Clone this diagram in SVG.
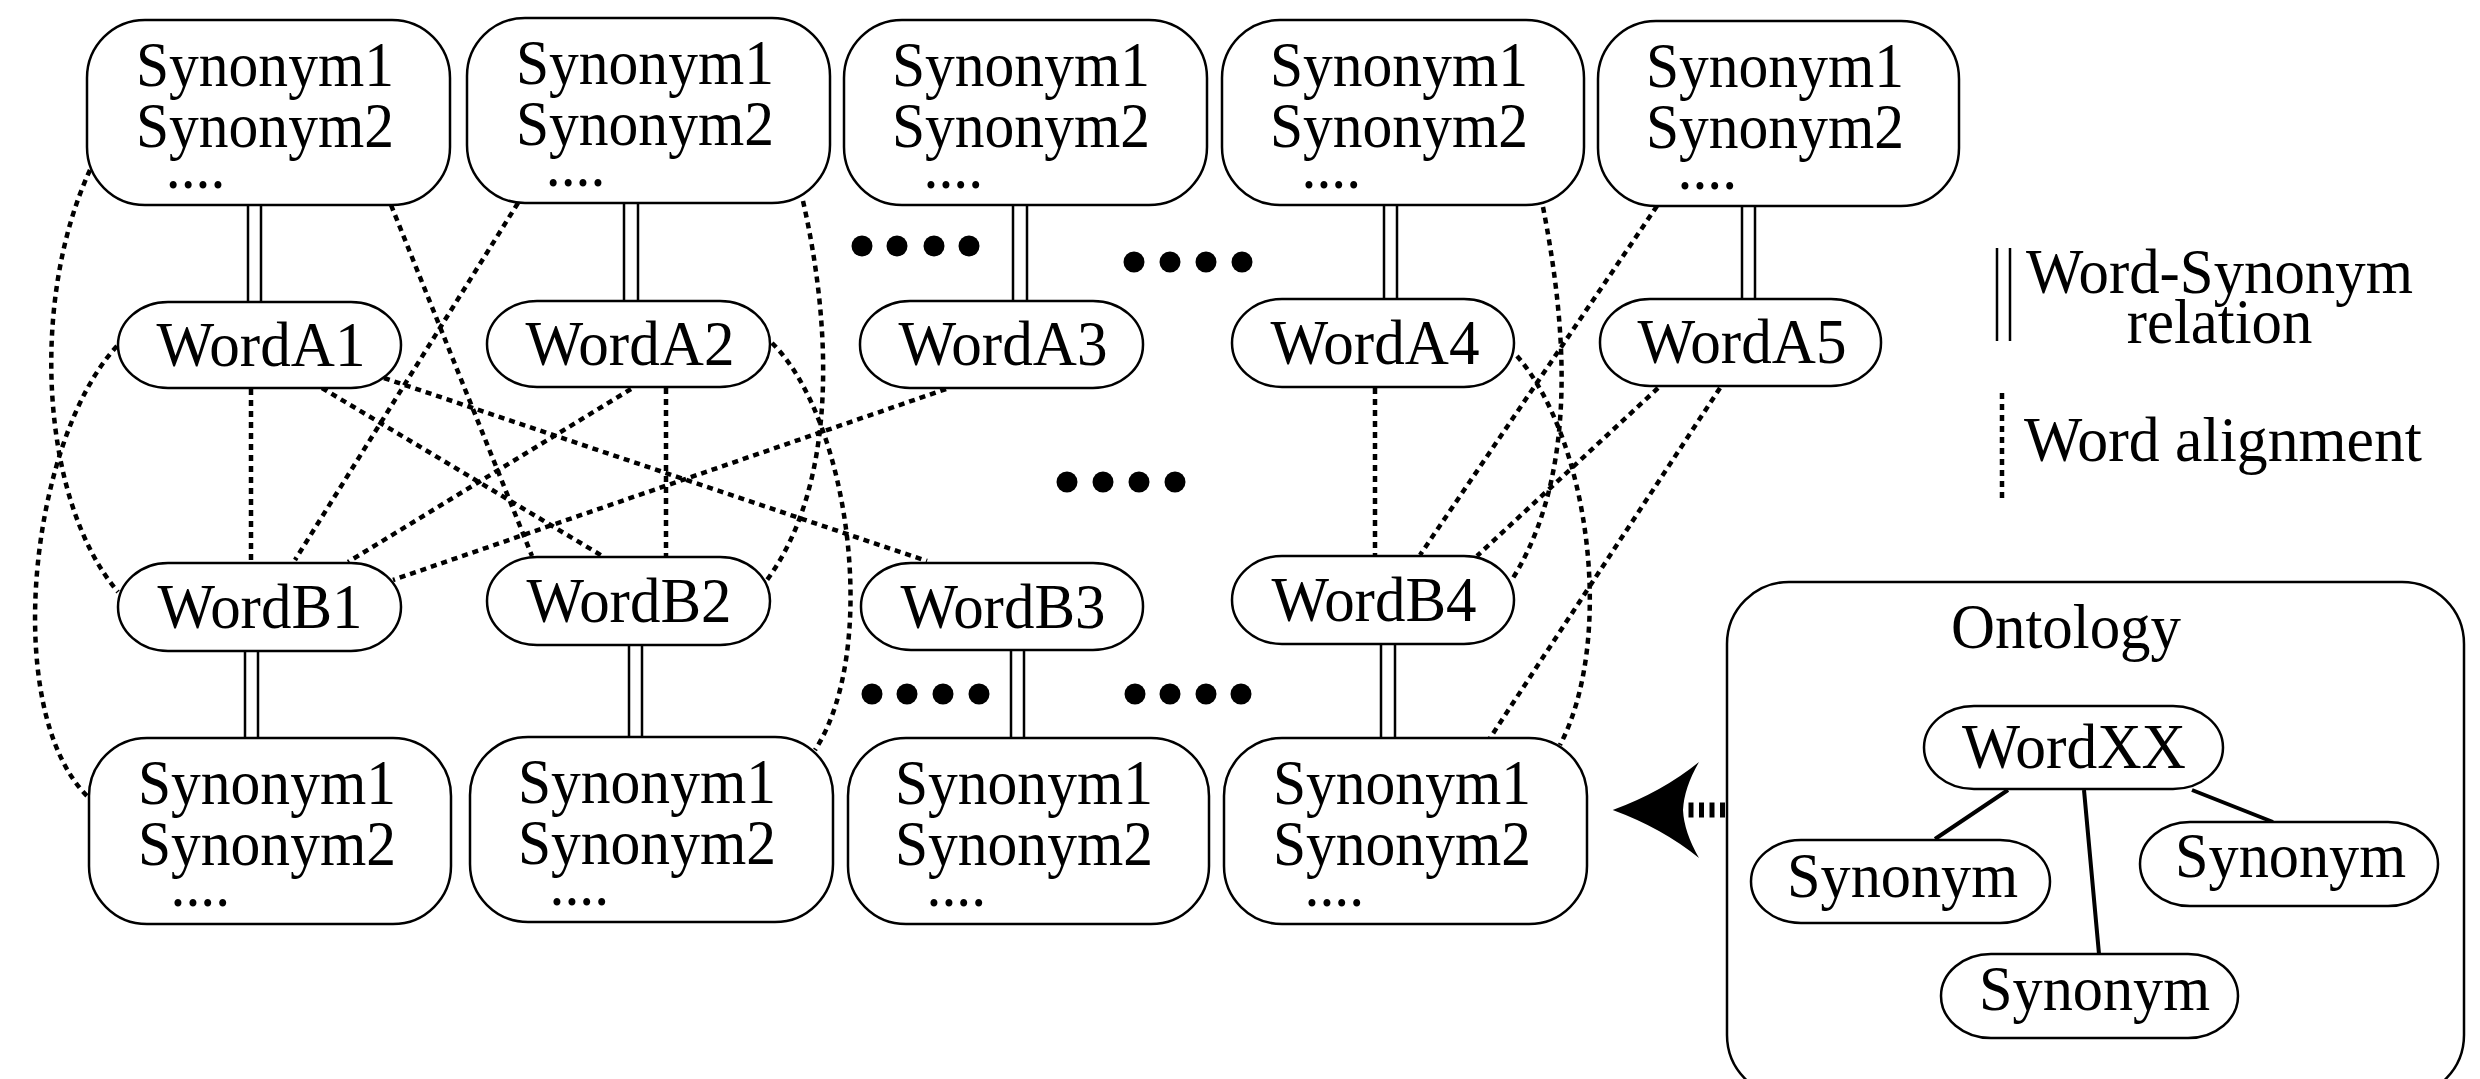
<svg xmlns="http://www.w3.org/2000/svg" width="2480" height="1079" viewBox="0 0 2480 1079">
<style>
text{font-family:"Liberation Serif","Times New Roman",serif;font-size:64px;fill:#000}
.mid{text-anchor:middle}
.box{fill:#fff;stroke:#000;stroke-width:2.5}
.dbl{stroke:#000;stroke-width:2.5;fill:none}
.dot{stroke:#000;stroke-width:4.5;fill:none;stroke-dasharray:6 5}
.solid{stroke:#000;stroke-width:4;fill:none}
</style>
<rect width="2480" height="1079" fill="#fff"/>
<!-- ontology container -->
<g id="ontology">
<rect class="box" x="1727" y="582" width="737" height="515" rx="62"/>
<text x="1951" y="648" textLength="230" lengthAdjust="spacingAndGlyphs">Ontology</text>
</g>
<g id="connectors">
<!-- word-synonym relations -->
<path class="dbl" d="M248,204V302M261,204V302"/>
<path class="dbl" d="M624,203V301M638,203V301"/>
<path class="dbl" d="M1013,205V301M1027,205V301"/>
<path class="dbl" d="M1384,205V299M1397,205V299"/>
<path class="dbl" d="M1742,206V299M1755,206V299"/>
<path class="dbl" d="M245,651V738M258,651V738"/>
<path class="dbl" d="M629,645V737M642,645V737"/>
<path class="dbl" d="M1011,650V738M1024,650V738"/>
<path class="dbl" d="M1381,644V738M1395,644V738"/>
<!-- word alignments -->
<path class="dot" d="M90,170C30,300 40,500 118,592"/>
<path class="dot" d="M117,346C30,440 0,710 88,797"/>
<path class="dot" d="M251,389V563"/>
<path class="dot" d="M391,205L532,556"/>
<path class="dot" d="M322,388L604,557"/>
<path class="dot" d="M384,378L927,561"/>
<path class="dot" d="M518,203L295,560"/>
<path class="dot" d="M631,389L348,562"/>
<path class="dot" d="M946,389L393,580"/>
<path class="dot" d="M666,388V557"/>
<path class="dot" d="M803,201C830,320 840,480 767,580"/>
<path class="dot" d="M772,343C850,420 880,650 815,750"/>
<path class="dot" d="M1375,388V556"/>
<path class="dot" d="M1657,206L1420,555"/>
<path class="dot" d="M1658,388L1477,556"/>
<path class="dot" d="M1720,388L1490,738"/>
<path class="dot" d="M1543,207C1565,320 1580,470 1513,578"/>
<path class="dot" d="M1517,356C1590,440 1615,640 1560,745"/>
<!-- ontology lines -->
<path class="solid" d="M2008,790L1935,839M2084,790L2099,954M2192,790L2273,822"/>
<!-- arrow from ontology -->
<line x1="1725" y1="810" x2="1684" y2="810" stroke="#000" stroke-width="15" stroke-dasharray="5 5.5"/>
<path d="M1612.7,810Q1662,792 1699,762Q1684,788 1683,810Q1684,832 1699,858Q1662,828 1612.7,810Z" fill="#000"/>
</g>
<g id="ellipses" fill="#000">
<circle cx="862" cy="246" r="10.5"/><circle cx="897" cy="246" r="10.5"/><circle cx="934" cy="246" r="10.5"/><circle cx="969" cy="246" r="10.5"/>
<circle cx="1134" cy="262" r="10.5"/><circle cx="1170" cy="262" r="10.5"/><circle cx="1206" cy="262" r="10.5"/><circle cx="1242" cy="262" r="10.5"/>
<circle cx="1067" cy="482" r="10.5"/><circle cx="1103" cy="482" r="10.5"/><circle cx="1139" cy="482" r="10.5"/><circle cx="1175" cy="482" r="10.5"/>
<circle cx="872" cy="694" r="10.5"/><circle cx="907" cy="694" r="10.5"/><circle cx="943" cy="694" r="10.5"/><circle cx="979" cy="694" r="10.5"/>
<circle cx="1135" cy="694" r="10.5"/><circle cx="1170" cy="694" r="10.5"/><circle cx="1206" cy="694" r="10.5"/><circle cx="1241" cy="694" r="10.5"/>
</g>
<!-- top synonym boxes -->
<g id="synA1"><rect class="box" x="87" y="20" width="363" height="185" rx="58"/><text transform="matrix(0.93,0,0,1,136,0)"><tspan x="0" y="86">Synonym1</tspan><tspan x="0" y="147">Synonym2</tspan><tspan x="32" y="188">....</tspan></text></g>
<g id="synA2"><rect class="box" x="467" y="18" width="363" height="185" rx="58"/><text transform="matrix(0.93,0,0,1,516,0)"><tspan x="0" y="84">Synonym1</tspan><tspan x="0" y="145">Synonym2</tspan><tspan x="32" y="186">....</tspan></text></g>
<g id="synA3"><rect class="box" x="844" y="20" width="363" height="185" rx="58"/><text transform="matrix(0.93,0,0,1,892,0)"><tspan x="0" y="86">Synonym1</tspan><tspan x="0" y="147">Synonym2</tspan><tspan x="34" y="188">....</tspan></text></g>
<g id="synA4"><rect class="box" x="1222" y="20" width="362" height="185" rx="58"/><text transform="matrix(0.93,0,0,1,1270,0)"><tspan x="0" y="86">Synonym1</tspan><tspan x="0" y="147">Synonym2</tspan><tspan x="34" y="188">....</tspan></text></g>
<g id="synA5"><rect class="box" x="1598" y="21" width="361" height="185" rx="58"/><text transform="matrix(0.93,0,0,1,1646,0)"><tspan x="0" y="87">Synonym1</tspan><tspan x="0" y="148">Synonym2</tspan><tspan x="34" y="189">....</tspan></text></g>
<!-- top words -->
<g id="wordA1"><rect class="box" x="118" y="302" width="283" height="86" rx="50" ry="43"/><text class="mid" x="261" y="366" textLength="209" lengthAdjust="spacingAndGlyphs">WordA1</text></g>
<g id="wordA2"><rect class="box" x="487" y="301" width="283" height="86" rx="50" ry="43"/><text class="mid" x="630" y="365" textLength="209" lengthAdjust="spacingAndGlyphs">WordA2</text></g>
<g id="wordA3"><rect class="box" x="860" y="301" width="283" height="87" rx="50" ry="43"/><text class="mid" x="1003" y="365" textLength="209" lengthAdjust="spacingAndGlyphs">WordA3</text></g>
<g id="wordA4"><rect class="box" x="1232" y="299" width="282" height="88" rx="50" ry="44"/><text class="mid" x="1375" y="364" textLength="209" lengthAdjust="spacingAndGlyphs">WordA4</text></g>
<g id="wordA5"><rect class="box" x="1600" y="299" width="281" height="87" rx="50" ry="43"/><text class="mid" x="1742" y="363" textLength="209" lengthAdjust="spacingAndGlyphs">WordA5</text></g>
<!-- bottom words -->
<g id="wordB1"><rect class="box" x="118" y="563" width="283" height="88" rx="50" ry="44"/><text class="mid" x="260" y="628" textLength="205" lengthAdjust="spacingAndGlyphs">WordB1</text></g>
<g id="wordB2"><rect class="box" x="487" y="557" width="283" height="88" rx="50" ry="44"/><text class="mid" x="629" y="622" textLength="205" lengthAdjust="spacingAndGlyphs">WordB2</text></g>
<g id="wordB3"><rect class="box" x="861" y="563" width="282" height="87" rx="50" ry="43"/><text class="mid" x="1003" y="628" textLength="205" lengthAdjust="spacingAndGlyphs">WordB3</text></g>
<g id="wordB4"><rect class="box" x="1232" y="556" width="282" height="88" rx="50" ry="44"/><text class="mid" x="1374" y="621" textLength="205" lengthAdjust="spacingAndGlyphs">WordB4</text></g>
<!-- bottom synonym boxes -->
<g id="synB1"><rect class="box" x="89" y="738" width="362" height="186" rx="58"/><text transform="matrix(0.93,0,0,1,138,0)"><tspan x="0" y="804">Synonym1</tspan><tspan x="0" y="865">Synonym2</tspan><tspan x="35" y="906">....</tspan></text></g>
<g id="synB2"><rect class="box" x="470" y="737" width="363" height="185" rx="58"/><text transform="matrix(0.93,0,0,1,518,0)"><tspan x="0" y="803">Synonym1</tspan><tspan x="0" y="864">Synonym2</tspan><tspan x="34" y="905">....</tspan></text></g>
<g id="synB3"><rect class="box" x="848" y="738" width="361" height="186" rx="58"/><text transform="matrix(0.93,0,0,1,895,0)"><tspan x="0" y="804">Synonym1</tspan><tspan x="0" y="865">Synonym2</tspan><tspan x="34" y="906">....</tspan></text></g>
<g id="synB4"><rect class="box" x="1224" y="738" width="363" height="186" rx="58"/><text transform="matrix(0.93,0,0,1,1273,0)"><tspan x="0" y="804">Synonym1</tspan><tspan x="0" y="865">Synonym2</tspan><tspan x="34" y="906">....</tspan></text></g>
<!-- legend -->
<g id="legend">
<path class="dbl" d="M1997,248V341M2010,248V341"/>
<text class="mid" transform="matrix(0.95,0,0,1,2219.5,0)"><tspan x="0" y="293">Word-Synonym</tspan><tspan x="0" y="343">relation</tspan></text>
<path class="dot" d="M2002,393V503"/>
<text x="2024" y="461" textLength="398" lengthAdjust="spacingAndGlyphs">Word alignment</text>
</g>
<!-- ontology inner nodes -->
<g id="wordXX"><rect class="box" x="1924" y="706" width="299" height="83" rx="50" ry="41.5"/><text x="1962" y="768" textLength="224" lengthAdjust="spacingAndGlyphs">WordXX</text></g>
<g id="synonymL"><rect class="box" x="1751" y="840" width="299" height="83" rx="50" ry="41.5"/><text x="1787" y="897" textLength="231" lengthAdjust="spacingAndGlyphs">Synonym</text></g>
<g id="synonymR"><rect class="box" x="2140" y="822" width="298" height="84" rx="50" ry="42"/><text x="2175" y="877" textLength="231" lengthAdjust="spacingAndGlyphs">Synonym</text></g>
<g id="synonymB"><rect class="box" x="1941" y="954" width="297" height="84" rx="50" ry="42"/><text x="1979" y="1010" textLength="231" lengthAdjust="spacingAndGlyphs">Synonym</text></g>
</svg>
